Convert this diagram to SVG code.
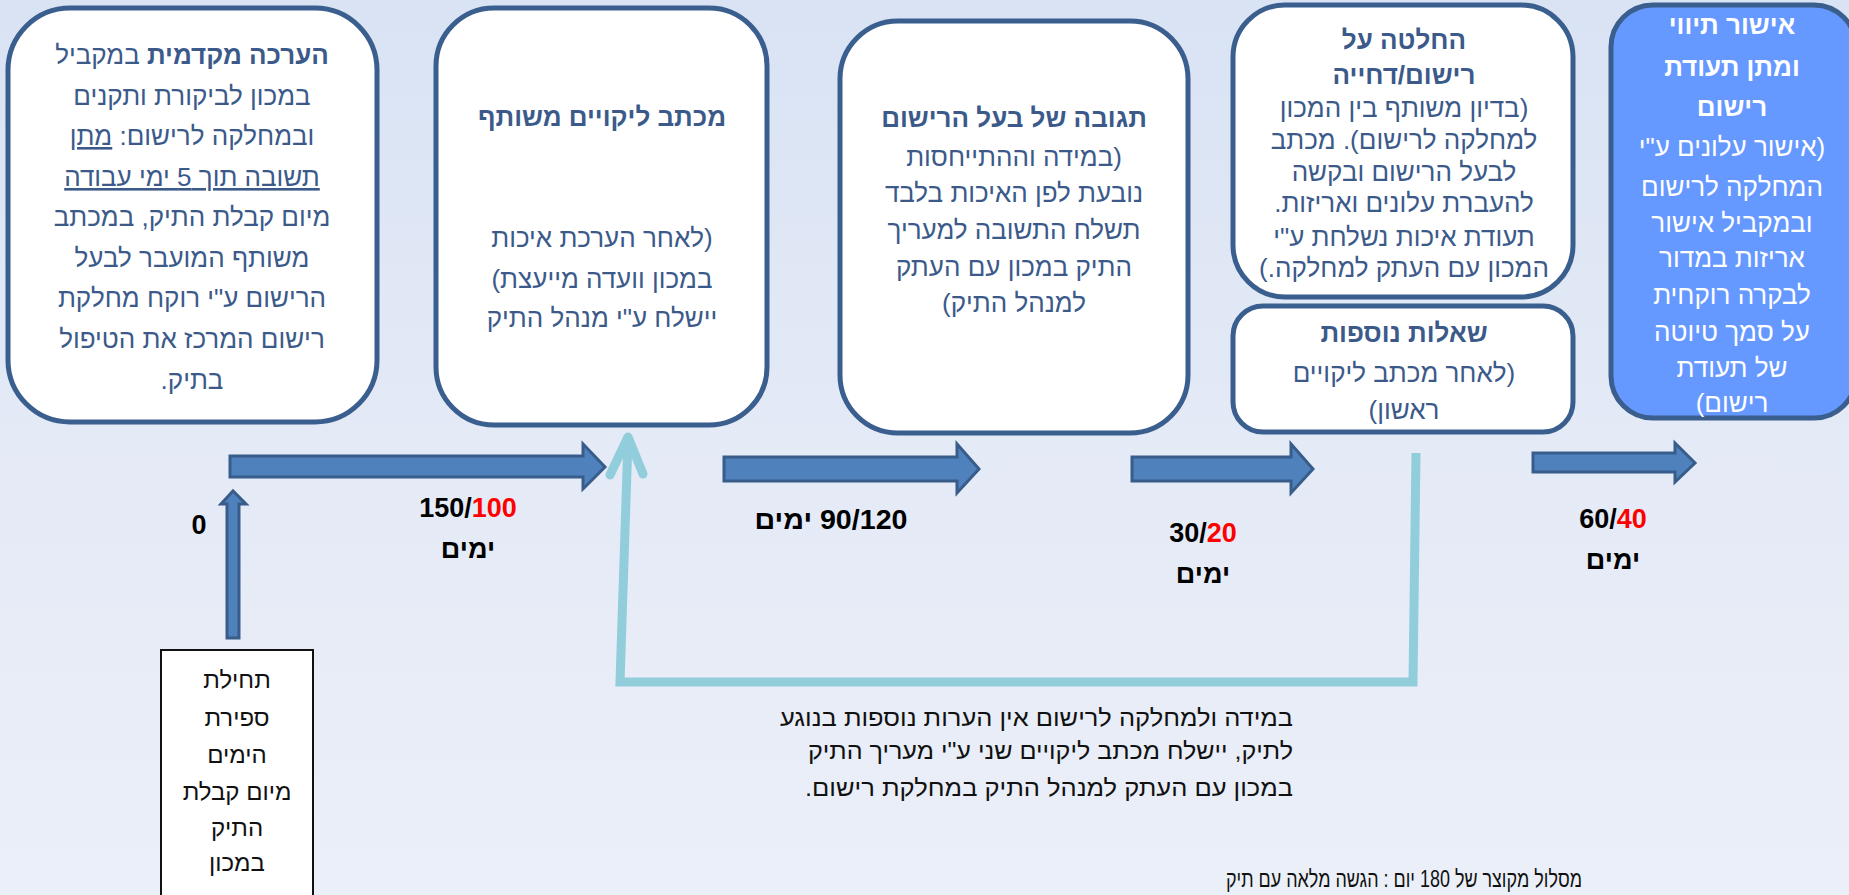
<svg xmlns="http://www.w3.org/2000/svg" width="1849" height="895" viewBox="0 0 1849 895">
<defs>
<linearGradient id="bg" x1="0" y1="0" x2="0" y2="1">
<stop offset="0" stop-color="#d9e3f4"/>
<stop offset="0.5" stop-color="#e4eaf6"/>
<stop offset="1" stop-color="#ebeff8"/>
</linearGradient>
<style>
.box{fill:#ffffff;stroke:#3a5f8f;stroke-width:5}
.blue{fill:#6699ff;stroke:#3a5f8f;stroke-width:5}
.t{font-family:"Liberation Sans","DejaVu Sans",sans-serif;font-size:26px;fill:#3b5a8a;text-anchor:middle;direction:rtl}
.b{font-weight:bold}
.w{fill:#ffffff}
.num{font-family:"Liberation Sans","DejaVu Sans",sans-serif;font-size:27px;font-weight:bold;fill:#000000;text-anchor:middle}
.red{fill:#ff0000}
.blk{font-family:"Liberation Sans","DejaVu Sans",sans-serif;font-size:24px;fill:#111111;direction:rtl}
.arr{fill:#4f81bd;stroke:#385d8a;stroke-width:3;stroke-linejoin:miter}
.back{fill:none;stroke:#92cddc;stroke-width:9}
</style>
</defs>
<rect x="0" y="0" width="1849" height="895" fill="url(#bg)"/>

<g id="connectors">
<polygon class="arr" points="230,456 583,456 583,444 605,467 583,489 583,477 230,477"/>
<polygon class="arr" points="724,457 957,457 957,444 979,469 957,493 957,481 724,481"/>
<polygon class="arr" points="1132,457 1291,457 1291,444 1313,469 1291,493 1291,481 1132,481"/>
<polygon class="arr" points="1533,453 1675,453 1675,443 1695,463 1675,482 1675,472 1533,472"/>
<polygon class="arr" points="227,638 227,504 221,504 233,491 246,504 239,504 239,638"/>
<path class="back" d="M1416,453 L1413,682 L620,682 L628,440"/>
<path class="back" d="M610,475 L628,437 L643,474" stroke-linecap="round" stroke-linejoin="round"/>
</g>

<g id="node-preliminary">
<rect class="box" x="8" y="8" width="369" height="414" rx="62"/>
<text class="t" x="192" y="64"><tspan class="b">הערכה מקדמית</tspan> במקביל</text>
<text class="t" x="192" y="105">במכון לביקורת ותקנים</text>
<text class="t" x="192" y="145">ובמחלקה לרישום: <tspan text-decoration="underline">מתן</tspan></text>
<text class="t" x="192" y="186" text-decoration="underline">תשובה תוך 5 ימי עבודה</text>
<text class="t" x="192" y="226">מיום קבלת התיק, במכתב</text>
<text class="t" x="192" y="267">משותף המועבר לבעל</text>
<text class="t" x="192" y="307">הרישום ע"י רוקח מחלקת</text>
<text class="t" x="192" y="348">רישום המרכז את הטיפול</text>
<text class="t" x="192" y="389">בתיק.</text>
</g>

<g id="node-letter">
<rect class="box" x="436" y="8" width="331" height="417" rx="58"/>
<text class="t b" x="602" y="126">מכתב ליקויים משותף</text>
<text class="t" x="602" y="247">(לאחר הערכת איכות</text>
<text class="t" x="602" y="288">במכון וועדה מייעצת)</text>
<text class="t" x="602" y="327">יישלח ע"י מנהל התיק</text>
</g>

<g id="node-response">
<rect class="box" x="840" y="21" width="348" height="412" rx="58"/>
<text class="t b" x="1014" y="127">תגובה של בעל הרישום</text>
<text class="t" x="1014" y="166">(במידה וההתייחסות</text>
<text class="t" x="1014" y="202">נובעת לפן האיכות בלבד</text>
<text class="t" x="1014" y="239">תשלח התשובה למעריך</text>
<text class="t" x="1014" y="276">התיק במכון עם העתק</text>
<text class="t" x="1014" y="312">למנהל התיק)</text>
</g>

<g id="node-decision">
<rect class="box" x="1233" y="5" width="340" height="292" rx="52"/>
<text class="t b" x="1404" y="49">החלטה על</text>
<text class="t b" x="1404" y="84">רישום/דחייה</text>
<text class="t" x="1404" y="117" font-size="24">(בדיון משותף בין המכון</text>
<text class="t" x="1404" y="149" font-size="24">למחלקה לרישום). מכתב</text>
<text class="t" x="1404" y="181" font-size="24">לבעל הרישום ובקשה</text>
<text class="t" x="1404" y="212" font-size="24">להעברת עלונים ואריזות.</text>
<text class="t" x="1404" y="246" font-size="24">תעודת איכות נשלחת ע"י</text>
<text class="t" x="1404" y="277" font-size="24">המכון עם העתק למחלקה.)</text>
</g>

<g id="node-questions">
<rect class="box" x="1233" y="306" width="340" height="126" rx="30"/>
<text class="t b" x="1404" y="342">שאלות נוספות</text>
<text class="t" x="1404" y="382" font-size="24">(לאחר מכתב ליקויים</text>
<text class="t" x="1404" y="419" font-size="24">ראשון)</text>
</g>

<g id="node-approval">
<rect class="blue" x="1611" y="5" width="245" height="413" rx="42"/>
<text class="t b w" x="1732" y="34">אישור תיווי</text>
<text class="t b w" x="1732" y="76">ומתן תעודת</text>
<text class="t b w" x="1732" y="116">רישום</text>
<text class="t w" x="1732" y="156">(אישור עלונים ע"י</text>
<text class="t w" x="1732" y="196">המחלקה לרישום</text>
<text class="t w" x="1732" y="232">ובמקביל אישור</text>
<text class="t w" x="1732" y="267">אריזות במדור</text>
<text class="t w" x="1732" y="304">לבקרה רוקחית</text>
<text class="t w" x="1732" y="341">על סמך טיוטה</text>
<text class="t w" x="1732" y="377">של תעודת</text>
<text class="t w" x="1732" y="412">רישום)</text>
</g>

<g id="node-start">
<rect x="161" y="650" width="152" height="260" fill="#ffffff" stroke="#111111" stroke-width="2"/>
<text class="blk" x="237" y="688" text-anchor="middle">תחילת</text>
<text class="blk" x="237" y="726" text-anchor="middle">ספירת</text>
<text class="blk" x="237" y="763" text-anchor="middle">הימים</text>
<text class="blk" x="237" y="800" text-anchor="middle">מיום קבלת</text>
<text class="blk" x="237" y="836" text-anchor="middle">התיק</text>
<text class="blk" x="237" y="871" text-anchor="middle">במכון</text>
</g>

<g id="labels">
<text class="num" x="199" y="534" font-size="22">0</text>
<text class="num" x="468" y="517">150/<tspan class="red">100</tspan></text>
<text class="num" x="468" y="558" style="direction:rtl">ימים</text>
<text class="num" x="831" y="529" style="direction:rtl" font-size="28" textLength="153" lengthAdjust="spacingAndGlyphs">90/120 ימים</text>
<text class="num" x="1203" y="542" font-size="28">30/<tspan class="red">20</tspan></text>
<text class="num" x="1203" y="583" style="direction:rtl" font-size="28">ימים</text>
<text class="num" x="1613" y="528">60/<tspan class="red">40</tspan></text>
<text class="num" x="1613" y="569" style="direction:rtl">ימים</text>
</g>

<g id="note">
<text class="blk" x="1293" y="726" text-anchor="start" font-size="27" textLength="513" lengthAdjust="spacingAndGlyphs">במידה ולמחלקה לרישום אין הערות נוספות בנוגע</text>
<text class="blk" x="1293" y="759" text-anchor="start" font-size="27" textLength="485" lengthAdjust="spacingAndGlyphs">לתיק, יישלח מכתב ליקויים שני ע"י מעריך התיק</text>
<text class="blk" x="1293" y="796" text-anchor="start" font-size="27" textLength="488" lengthAdjust="spacingAndGlyphs">במכון עם העתק למנהל התיק במחלקת רישום.</text>
<text class="blk" x="1582" y="887" text-anchor="start" font-size="18" textLength="356" lengthAdjust="spacingAndGlyphs">מסלול מקוצר של 180 יום : הגשה מלאה עם תיק</text>
</g>
</svg>
